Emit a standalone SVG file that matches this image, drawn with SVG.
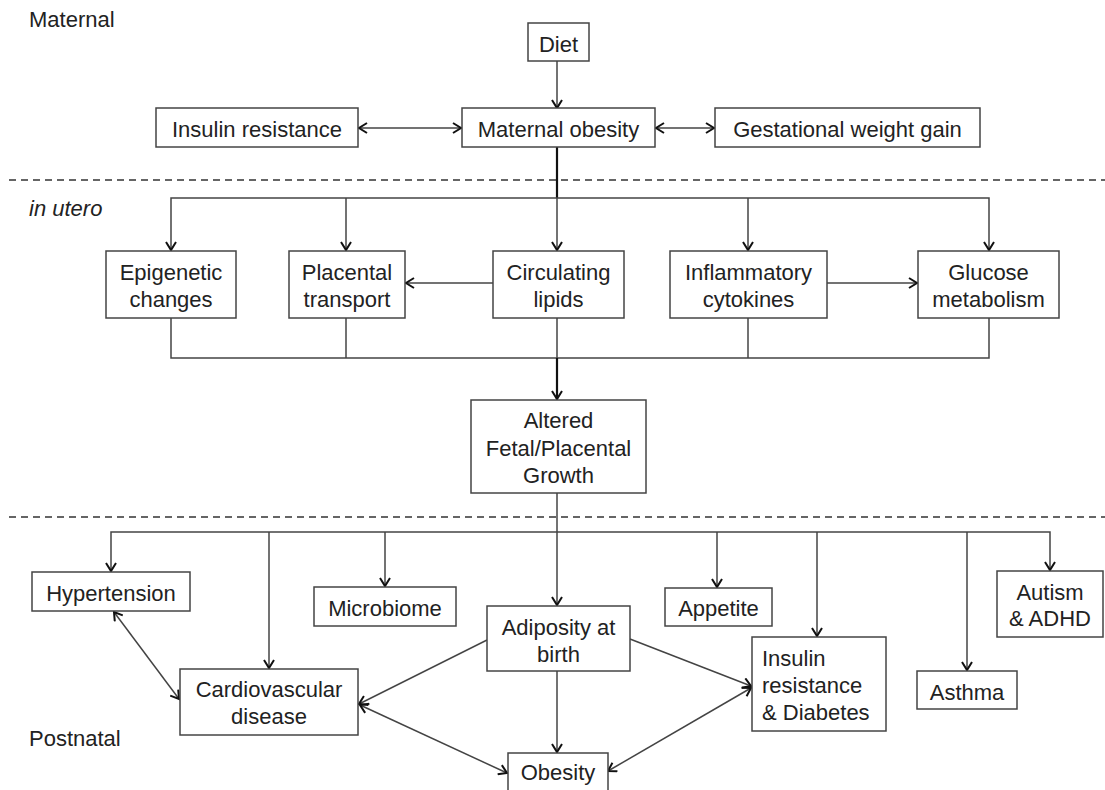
<svg xmlns="http://www.w3.org/2000/svg" width="1105" height="790" viewBox="0 0 1105 790">
<defs>
<style>
.box{fill:#fff;stroke:#444;stroke-width:1.5}
.t{font-family:"Liberation Sans",Arial,sans-serif;font-size:22px;fill:#222;text-anchor:middle}
.tl{font-family:"Liberation Sans",Arial,sans-serif;font-size:22px;fill:#222}
.c{fill:none;stroke:#444;stroke-width:1.5}
.ck{fill:none;stroke:#111;stroke-width:2.2}
.dash{fill:none;stroke:#333;stroke-width:1.3;stroke-dasharray:7 5}
</style>
<marker id="ah" markerWidth="12" markerHeight="12" refX="10" refY="6" orient="auto-start-reverse" markerUnits="userSpaceOnUse">
<path d="M2,1 L10,6 L2,11" fill="none" stroke="#111" stroke-width="2"/>
</marker>
</defs>
<rect width="1105" height="790" fill="#fff"/>
<g id="section-labels">
<text class="tl" x="29" y="27">Maternal</text>
<text class="tl" x="29" y="216" font-style="italic">in utero</text>
<text class="tl" x="29" y="746">Postnatal</text>
<line class="dash" x1="9" y1="180" x2="1105" y2="180"/>
<line class="dash" x1="9" y1="517" x2="1105" y2="517"/>
</g>
<g id="connectors">
<line class="c" x1="557" y1="61" x2="557" y2="108" marker-end="url(#ah)"/>
<line class="c" x1="359" y1="128" x2="461" y2="128" marker-start="url(#ah)" marker-end="url(#ah)"/>
<line class="c" x1="656" y1="128" x2="714" y2="128" marker-start="url(#ah)" marker-end="url(#ah)"/>
<line class="ck" x1="557" y1="147" x2="557" y2="198"/>
<polyline class="c" points="171,250 171,198 989,198 989,250" marker-start="url(#ah)" marker-end="url(#ah)"/>
<line class="c" x1="346" y1="198" x2="346" y2="250" marker-end="url(#ah)"/>
<line class="c" x1="557" y1="198" x2="557" y2="250" marker-end="url(#ah)"/>
<line class="c" x1="748" y1="198" x2="748" y2="250" marker-end="url(#ah)"/>
<line class="c" x1="493" y1="283" x2="406" y2="283" marker-end="url(#ah)"/>
<line class="c" x1="827" y1="283" x2="917" y2="283" marker-end="url(#ah)"/>
<polyline class="c" points="171,318 171,358 989,358 989,318"/>
<line class="c" x1="346" y1="318" x2="346" y2="358"/>
<line class="c" x1="557" y1="318" x2="557" y2="358"/>
<line class="c" x1="748" y1="318" x2="748" y2="358"/>
<line class="ck" x1="557" y1="358" x2="557" y2="399" marker-end="url(#ah)"/>
<line class="c" x1="557" y1="493" x2="557" y2="532"/>
<polyline class="c" points="111,571 111,532 1050,532 1050,570" marker-start="url(#ah)" marker-end="url(#ah)"/>
<line class="c" x1="269" y1="532" x2="269" y2="668" marker-end="url(#ah)"/>
<line class="c" x1="385" y1="532" x2="385" y2="586" marker-end="url(#ah)"/>
<line class="c" x1="557" y1="532" x2="557" y2="605" marker-end="url(#ah)"/>
<line class="c" x1="717" y1="532" x2="717" y2="587" marker-end="url(#ah)"/>
<line class="c" x1="817" y1="532" x2="817" y2="636" marker-end="url(#ah)"/>
<line class="c" x1="967" y1="532" x2="967" y2="670" marker-end="url(#ah)"/>
<line class="c" x1="114" y1="612" x2="179" y2="699" marker-start="url(#ah)" marker-end="url(#ah)"/>
<line class="c" x1="487" y1="640" x2="359" y2="704" marker-end="url(#ah)"/>
<line class="c" x1="630" y1="639" x2="751" y2="686" marker-end="url(#ah)"/>
<line class="c" x1="557" y1="671" x2="557" y2="752" marker-end="url(#ah)"/>
<line class="c" x1="360" y1="705" x2="507" y2="773" marker-start="url(#ah)" marker-end="url(#ah)"/>
<line class="c" x1="751" y1="688" x2="608" y2="771" marker-start="url(#ah)" marker-end="url(#ah)"/>
</g>
<g id="diet"><rect class="box" x="528" y="23" width="61" height="38"/><text class="t" x="558.5" y="52">Diet</text></g>
<g id="insulin-resistance-maternal"><rect class="box" x="156" y="108" width="202" height="39"/><text class="t" x="257" y="137">Insulin resistance</text></g>
<g id="maternal-obesity"><rect class="box" x="462" y="108" width="193" height="39"/><text class="t" x="558.5" y="137">Maternal obesity</text></g>
<g id="gestational-weight-gain"><rect class="box" x="715" y="108" width="265" height="39"/><text class="t" x="847.5" y="137">Gestational weight gain</text></g>
<g id="epigenetic"><rect class="box" x="106" y="251" width="130" height="67"/><text class="t" x="171" y="280">Epigenetic</text><text class="t" x="171" y="307">changes</text></g>
<g id="placental-transport"><rect class="box" x="289" y="251" width="116" height="67"/><text class="t" x="347" y="280">Placental</text><text class="t" x="347" y="307">transport</text></g>
<g id="circulating-lipids"><rect class="box" x="493" y="251" width="131" height="67"/><text class="t" x="558.5" y="280">Circulating</text><text class="t" x="558.5" y="307">lipids</text></g>
<g id="inflammatory-cytokines"><rect class="box" x="670" y="251" width="157" height="67"/><text class="t" x="748.5" y="280">Inflammatory</text><text class="t" x="748.5" y="307">cytokines</text></g>
<g id="glucose-metabolism"><rect class="box" x="918" y="251" width="141" height="67"/><text class="t" x="988.5" y="280">Glucose</text><text class="t" x="988.5" y="307">metabolism</text></g>
<g id="altered-growth"><rect class="box" x="471" y="400" width="175" height="93"/><text class="t" x="558.5" y="428">Altered</text><text class="t" x="558.5" y="456">Fetal/Placental</text><text class="t" x="558.5" y="483">Growth</text></g>
<g id="hypertension"><rect class="box" x="32" y="572" width="158" height="39"/><text class="t" x="111" y="601">Hypertension</text></g>
<g id="microbiome"><rect class="box" x="314" y="587" width="142" height="39"/><text class="t" x="385" y="616">Microbiome</text></g>
<g id="appetite"><rect class="box" x="665" y="588" width="107" height="38"/><text class="t" x="718.5" y="616">Appetite</text></g>
<g id="autism-adhd"><rect class="box" x="997" y="571" width="106" height="66"/><text class="t" x="1050" y="600">Autism</text><text class="t" x="1050" y="626">&amp; ADHD</text></g>
<g id="adiposity-at-birth"><rect class="box" x="487" y="606" width="143" height="65"/><text class="t" x="558.5" y="635">Adiposity at</text><text class="t" x="558.5" y="662">birth</text></g>
<g id="cardiovascular-disease"><rect class="box" x="180" y="669" width="178" height="66"/><text class="t" x="269" y="697">Cardiovascular</text><text class="t" x="269" y="724">disease</text></g>
<g id="insulin-resistance-diabetes"><rect class="box" x="752" y="637" width="134" height="94"/><text class="tl" x="762" y="666">Insulin</text><text class="tl" x="762" y="693">resistance</text><text class="tl" x="762" y="720">&amp; Diabetes</text></g>
<g id="asthma"><rect class="box" x="917" y="671" width="100" height="38"/><text class="t" x="967" y="700">Asthma</text></g>
<g id="obesity"><rect class="box" x="508" y="753" width="100" height="45"/><text class="t" x="558" y="780">Obesity</text></g>
</svg>
